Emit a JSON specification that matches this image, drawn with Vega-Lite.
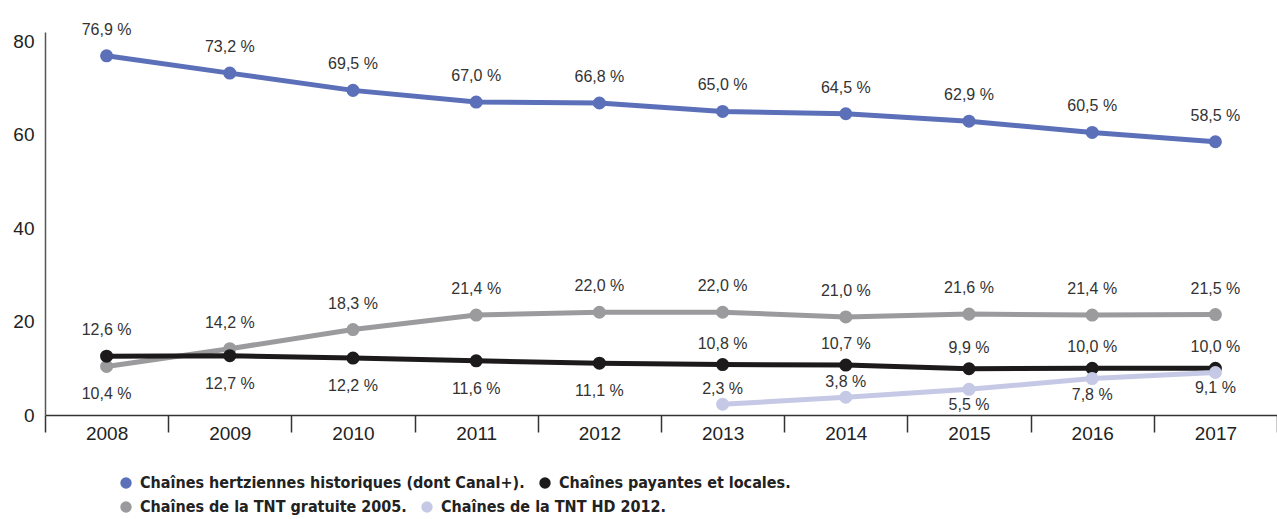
{
  "$schema": "https://vega.github.io/schema/vega-lite/v6.json",
  "width": 1232,
  "height": 383,
  "autosize": {"type": "none"},
  "padding": {"left": 45, "top": 32, "right": 0, "bottom": 104},
  "background": "white",
  "config": {
    "view": {"stroke": null},
    "font": "Liberation Sans",
    "legend": {
      "title": null,
      "orient": "none",
      "direction": "horizontal",
      "symbolType": "circle",
      "symbolSize": 130,
      "symbolStrokeWidth": 0,
      "labelFont": "DejaVu Sans Condensed, Roboto, sans-serif",
      "labelFontWeight": "bold",
      "labelFontSize": 16,
      "labelColor": "#222222",
      "labelLimit": 600,
      "columnPadding": 12,
      "labelOffset": 6
    }
  },
  "data": {
    "values": [
      {"year": "2008", "series": "Chaînes hertziennes historiques (dont Canal+).", "share": 76.9},
      {"year": "2009", "series": "Chaînes hertziennes historiques (dont Canal+).", "share": 73.2},
      {"year": "2010", "series": "Chaînes hertziennes historiques (dont Canal+).", "share": 69.5},
      {"year": "2011", "series": "Chaînes hertziennes historiques (dont Canal+).", "share": 67.0},
      {"year": "2012", "series": "Chaînes hertziennes historiques (dont Canal+).", "share": 66.8},
      {"year": "2013", "series": "Chaînes hertziennes historiques (dont Canal+).", "share": 65.0},
      {"year": "2014", "series": "Chaînes hertziennes historiques (dont Canal+).", "share": 64.5},
      {"year": "2015", "series": "Chaînes hertziennes historiques (dont Canal+).", "share": 62.9},
      {"year": "2016", "series": "Chaînes hertziennes historiques (dont Canal+).", "share": 60.5},
      {"year": "2017", "series": "Chaînes hertziennes historiques (dont Canal+).", "share": 58.5},
      {"year": "2008", "series": "Chaînes de la TNT gratuite 2005.", "share": 10.4},
      {"year": "2009", "series": "Chaînes de la TNT gratuite 2005.", "share": 14.2},
      {"year": "2010", "series": "Chaînes de la TNT gratuite 2005.", "share": 18.3},
      {"year": "2011", "series": "Chaînes de la TNT gratuite 2005.", "share": 21.4},
      {"year": "2012", "series": "Chaînes de la TNT gratuite 2005.", "share": 22.0},
      {"year": "2013", "series": "Chaînes de la TNT gratuite 2005.", "share": 22.0},
      {"year": "2014", "series": "Chaînes de la TNT gratuite 2005.", "share": 21.0},
      {"year": "2015", "series": "Chaînes de la TNT gratuite 2005.", "share": 21.6},
      {"year": "2016", "series": "Chaînes de la TNT gratuite 2005.", "share": 21.4},
      {"year": "2017", "series": "Chaînes de la TNT gratuite 2005.", "share": 21.5},
      {"year": "2008", "series": "Chaînes payantes et locales.", "share": 12.6},
      {"year": "2009", "series": "Chaînes payantes et locales.", "share": 12.7},
      {"year": "2010", "series": "Chaînes payantes et locales.", "share": 12.2},
      {"year": "2011", "series": "Chaînes payantes et locales.", "share": 11.6},
      {"year": "2012", "series": "Chaînes payantes et locales.", "share": 11.1},
      {"year": "2013", "series": "Chaînes payantes et locales.", "share": 10.8},
      {"year": "2014", "series": "Chaînes payantes et locales.", "share": 10.7},
      {"year": "2015", "series": "Chaînes payantes et locales.", "share": 9.9},
      {"year": "2016", "series": "Chaînes payantes et locales.", "share": 10.0},
      {"year": "2017", "series": "Chaînes payantes et locales.", "share": 10.0},
      {"year": "2013", "series": "Chaînes de la TNT HD 2012.", "share": 2.3},
      {"year": "2014", "series": "Chaînes de la TNT HD 2012.", "share": 3.8},
      {"year": "2015", "series": "Chaînes de la TNT HD 2012.", "share": 5.5},
      {"year": "2016", "series": "Chaînes de la TNT HD 2012.", "share": 7.8},
      {"year": "2017", "series": "Chaînes de la TNT HD 2012.", "share": 9.1}
    ]
  },
  "transform": [
    {"calculate": "replace(format(datum.share, '.1f'), '.', ',') + ' %'", "as": "label"},
    {"calculate": "datum.series", "as": "series2"},
    {"calculate": "indexof(datum.series, 'HD') >= 0 ? (toNumber(datum.year) >= 2015 ? 'below2' : 'above3') : indexof(datum.series, 'payantes') >= 0 ? ((toNumber(datum.year) >= 2009 && toNumber(datum.year) <= 2012) ? 'below' : (datum.year == '2008' ? 'above' : 'above2')) : (indexof(datum.series, 'gratuite') >= 0 && datum.year == '2008') ? 'below' : 'above'", "as": "side"}
  ],
  "encoding": {
    "x": {
      "field": "year",
      "type": "ordinal",
      "scale": {"type": "band", "paddingInner": 0, "paddingOuter": 0},
      "axis": {
        "title": null,
        "labelAngle": 0,
        "tickBand": "extent",
        "tickSize": 17,
        "tickWidth": 1.5,
        "tickColor": "#333333",
        "domainColor": "#333333",
        "domainWidth": 1.5,
        "labelFontSize": 19,
        "labelColor": "#222222",
        "labelPadding": -8,
        "labelFont": "Liberation Sans"
      }
    },
    "y": {
      "field": "share",
      "type": "quantitative",
      "scale": {"domain": [0, 82], "nice": false, "zero": true},
      "axis": {
        "title": null,
        "values": [0, 20, 40, 60, 80],
        "ticks": false,
        "grid": false,
        "labelFontSize": 19,
        "labelColor": "#222222",
        "labelPadding": 11,
        "domainColor": "#555555",
        "domainWidth": 1.5
      }
    }
  },
  "layer": [
    {
      "mark": {"type": "line", "strokeWidth": 5},
      "encoding": {
        "stroke": {
          "field": "series2",
          "type": "nominal",
          "scale": {
            "domain": [
              "Chaînes de la TNT gratuite 2005.",
              "Chaînes de la TNT HD 2012.",
              "Chaînes hertziennes historiques (dont Canal+).",
              "Chaînes payantes et locales."
            ],
            "range": ["#9b9b9e", "#c6c9e6", "#5b70b9", "#1c1a1b"]
          },
          "legend": {
            "values": ["Chaînes de la TNT gratuite 2005.", "Chaînes de la TNT HD 2012."],
            "legendX": 73,
            "legendY": 467,
            "encode": {"symbols": {"update": {"fill": {"scale": "stroke", "field": "value"}, "strokeWidth": {"value": 0}}}}
          }
        }
      }
    },
    {
      "mark": {"type": "circle", "size": 170, "opacity": 1},
      "encoding": {
        "fill": {
          "field": "series",
          "type": "nominal",
          "scale": {
            "domain": [
              "Chaînes hertziennes historiques (dont Canal+).",
              "Chaînes payantes et locales.",
              "Chaînes de la TNT gratuite 2005.",
              "Chaînes de la TNT HD 2012."
            ],
            "range": ["#5b70b9", "#1c1a1b", "#9b9b9e", "#c6c9e6"]
          },
          "legend": {
            "values": ["Chaînes hertziennes historiques (dont Canal+).", "Chaînes payantes et locales."],
            "legendX": 73,
            "legendY": 443
          }
        }
      }
    },
    {
      "transform": [{"filter": "datum.side == 'above'"}],
      "mark": {"type": "text", "dy": -26, "fontSize": 16, "baseline": "middle", "fill": "#333333"},
      "encoding": {"text": {"field": "label"}}
    },
    {
      "transform": [{"filter": "datum.side == 'above2'"}],
      "mark": {"type": "text", "dy": -21, "fontSize": 16, "baseline": "middle", "fill": "#333333"},
      "encoding": {"text": {"field": "label"}}
    },
    {
      "transform": [{"filter": "datum.side == 'above3'"}],
      "mark": {"type": "text", "dy": -15, "fontSize": 16, "baseline": "middle", "fill": "#333333"},
      "encoding": {"text": {"field": "label"}}
    },
    {
      "transform": [{"filter": "datum.side == 'below'"}],
      "mark": {"type": "text", "dy": 28, "fontSize": 16, "baseline": "middle", "fill": "#333333"},
      "encoding": {"text": {"field": "label"}}
    },
    {
      "transform": [{"filter": "datum.side == 'below2'"}],
      "mark": {"type": "text", "dy": 16, "fontSize": 16, "baseline": "middle", "fill": "#333333"},
      "encoding": {"text": {"field": "label"}}
    }
  ]
}
